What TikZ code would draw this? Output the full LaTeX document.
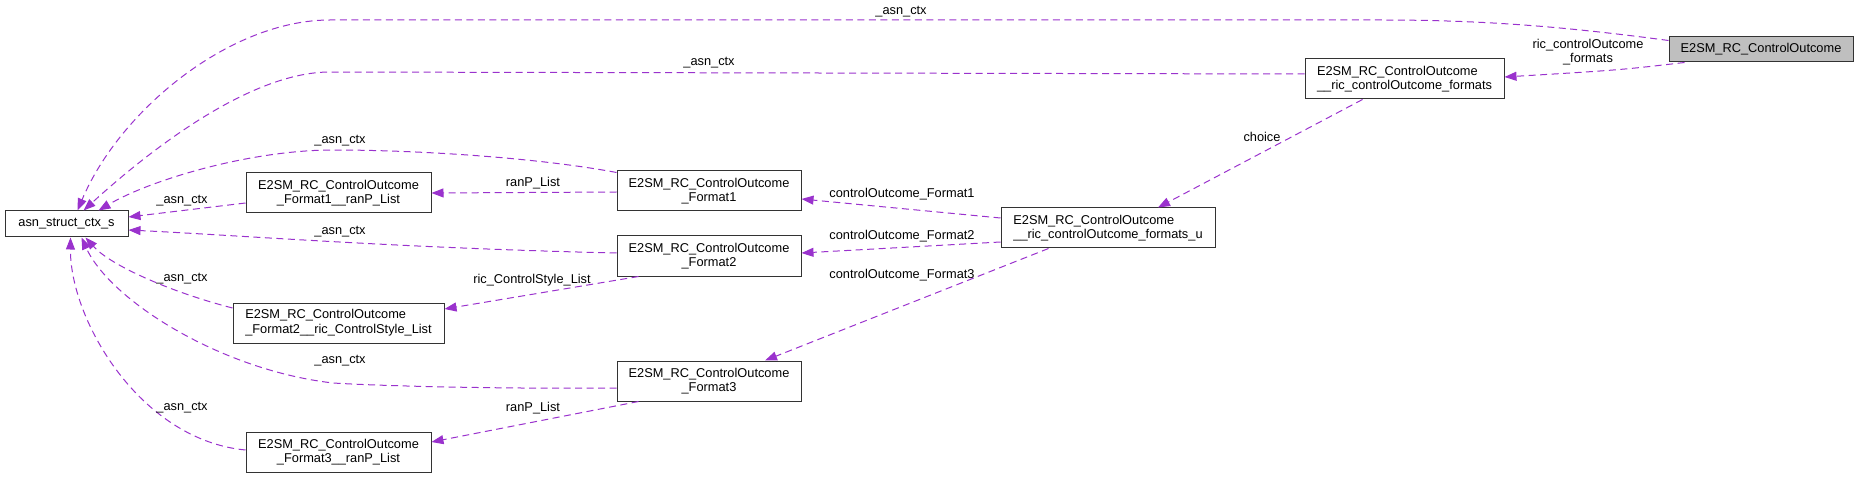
\documentclass[tikz,border=0pt]{standalone}
\usepackage{fontspec}
\setmainfont{Liberation Sans}
\usetikzlibrary{arrows.meta,calc}
\definecolor{edgepurple}{HTML}{9A32CD}
\definecolor{rootgray}{HTML}{BFBFBF}
\newcommand{\doxfont}{\fontsize{12.8}{14.7}\selectfont}

\begin{document}
\begin{tikzpicture}[x=1pt,y=-1pt,
  cls/.style={draw=black!80,fill=white,line width=1pt,inner sep=0pt,minimum height=40pt,font=\doxfont,align=center},
  clsl/.style={cls,align=left},
  rel/.style={edgepurple,dash pattern=on 7pt off 4.5pt,line width=1pt,-{Triangle[length=12pt,width=9pt]}},
  lbl/.style={font=\doxfont,inner sep=0pt,align=center}]
\useasboundingbox (0,0) rectangle (1859,478);
% classes
\node[cls,minimum width=123pt,minimum height=26pt] (asn) at (66.5,224) {asn\_struct\_ctx\_s};
\node[cls,minimum width=185pt] (F1rp) at (338.5,193) {E2SM\_RC\_ControlOutcome\\\_Format1\_\_ranP\_List};
\node[clsl,minimum width=211pt] (F2cs) at (338.5,323) {E2SM\_RC\_ControlOutcome\\\_Format2\_\_ric\_ControlStyle\_List};
\node[cls,minimum width=185pt] (F3rp) at (338.5,452) {E2SM\_RC\_ControlOutcome\\\_Format3\_\_ranP\_List};
\node[cls,minimum width=184pt] (fmt1) at (709,191) {E2SM\_RC\_ControlOutcome\\\_Format1};
\node[cls,minimum width=184pt] (fmt2) at (709,256) {E2SM\_RC\_ControlOutcome\\\_Format2};
\node[cls,minimum width=184pt] (fmt3) at (709,381) {E2SM\_RC\_ControlOutcome\\\_Format3};
\node[clsl,minimum width=214pt] (fmtu) at (1108,228) {E2SM\_RC\_ControlOutcome\\\_\_ric\_controlOutcome\_formats\_u};
\node[clsl,minimum width=199pt] (fmts) at (1404.5,79) {E2SM\_RC\_ControlOutcome\\\_\_ric\_controlOutcome\_formats};
\node[cls,fill=rootgray,minimum width=184pt,minimum height=25pt] (root) at (1761,49.5) {E2SM\_RC\_ControlOutcome};
% members pointing to asn_struct_ctx_s
\draw[rel] ($(root.west)+(0,-9)$) .. controls (1560,26) and (1480,20) .. (1380,20) -- (330,20)
  .. controls (230,20) and (120,110) .. ($(asn.north)+(11,0)$);
\draw[rel] ($(fmts.west)+(0,-5)$) -- (330,72) .. controls (250,72) and (150,150) .. ($(asn.north)+(17,0)$);
\draw[rel] ($(fmt1.north west)+(0,2)$) .. controls (540,158) and (420,150) .. (333,150)
  .. controls (250,150) and (150,180) .. ($(asn.north)+(32,0)$);
\draw[rel] ($(F1rp.west)+(0,10)$) -- ($(asn.east)+(0,-7)$);
\draw[rel] ($(fmt2.west)+(0,-3)$) .. controls (400,248) and (250,236) .. ($(asn.east)+(0,6)$);
\draw[rel] ($(F2cs.west)+(0,-15)$) .. controls (170,292) and (110,265) .. ($(asn.south)+(19,0)$);
\draw[rel] ($(fmt3.west)+(0,7)$) .. controls (500,389) and (380,386) .. (333,383)
  .. controls (220,370) and (110,300) .. ($(asn.south)+(15,0)$);
\draw[rel] ($(F3rp.west)+(0,-2)$) .. controls (140,440) and (70,320) .. ($(asn.south)+(4,0)$);
% other members
\draw[rel] ($(root.south west)+(16,0)$) .. controls (1620,70) .. ($(fmts.east)+(0,-2)$);
\draw[rel] ($(fmts.south west)+(58,0)$) -- ($(fmtu.north)+(50,0)$);
\draw[rel] ($(fmtu.west)+(0,-10)$) -- ($(fmt1.east)+(0,8)$);
\draw[rel] ($(fmtu.west)+(0,14)$) -- ($(fmt2.east)+(0,-3)$);
\draw[rel] ($(fmtu.south west)+(48,0)$) -- ($(fmt3.north)+(56,0)$);
\draw[rel] ($(fmt1.west)+(0,1)$) -- (F1rp.east);
\draw[rel] ($(fmt2.south west)+(22,0)$) -- ($(F2cs.east)+(0,-14)$);
\draw[rel] ($(fmt3.south west)+(22,0)$) -- ($(F3rp.east)+(0,-10)$);
% edge labels
\node[lbl] (lrootasn) at (901,12) {\_asn\_ctx};
\node[lbl] (lfmtsasn) at (709,63) {\_asn\_ctx};
\node[lbl] (lfmtoneasn) at (340,141) {\_asn\_ctx};
\node[lbl] (lFonerpasn) at (182,201) {\_asn\_ctx};
\node[lbl] (lfmttwoasn) at (340,232) {\_asn\_ctx};
\node[lbl] (lFtwocsasn) at (182,279) {\_asn\_ctx};
\node[lbl] (lfmtthreeasn) at (340,361) {\_asn\_ctx};
\node[lbl] (lFthreerpasn) at (182,408) {\_asn\_ctx};
\node[lbl] (lfmtonerp) at (533,183) {ranP\_List};
\node[lbl] (lfmttwocs) at (532,280) {ric\_ControlStyle\_List};
\node[lbl] (lfmtthreerp) at (533,408) {ranP\_List};
\node[lbl] (lrootfmts) at (1588,52) {ric\_controlOutcome\\\_formats};
\node[lbl] (lchoice) at (1262,137) {choice};
\node[lbl] (luone) at (902,194) {controlOutcome\_Format1};
\node[lbl] (lutwo) at (902,236) {controlOutcome\_Format2};
\node[lbl] (luthree) at (902,275) {controlOutcome\_Format3};
\end{tikzpicture}
\end{document}
